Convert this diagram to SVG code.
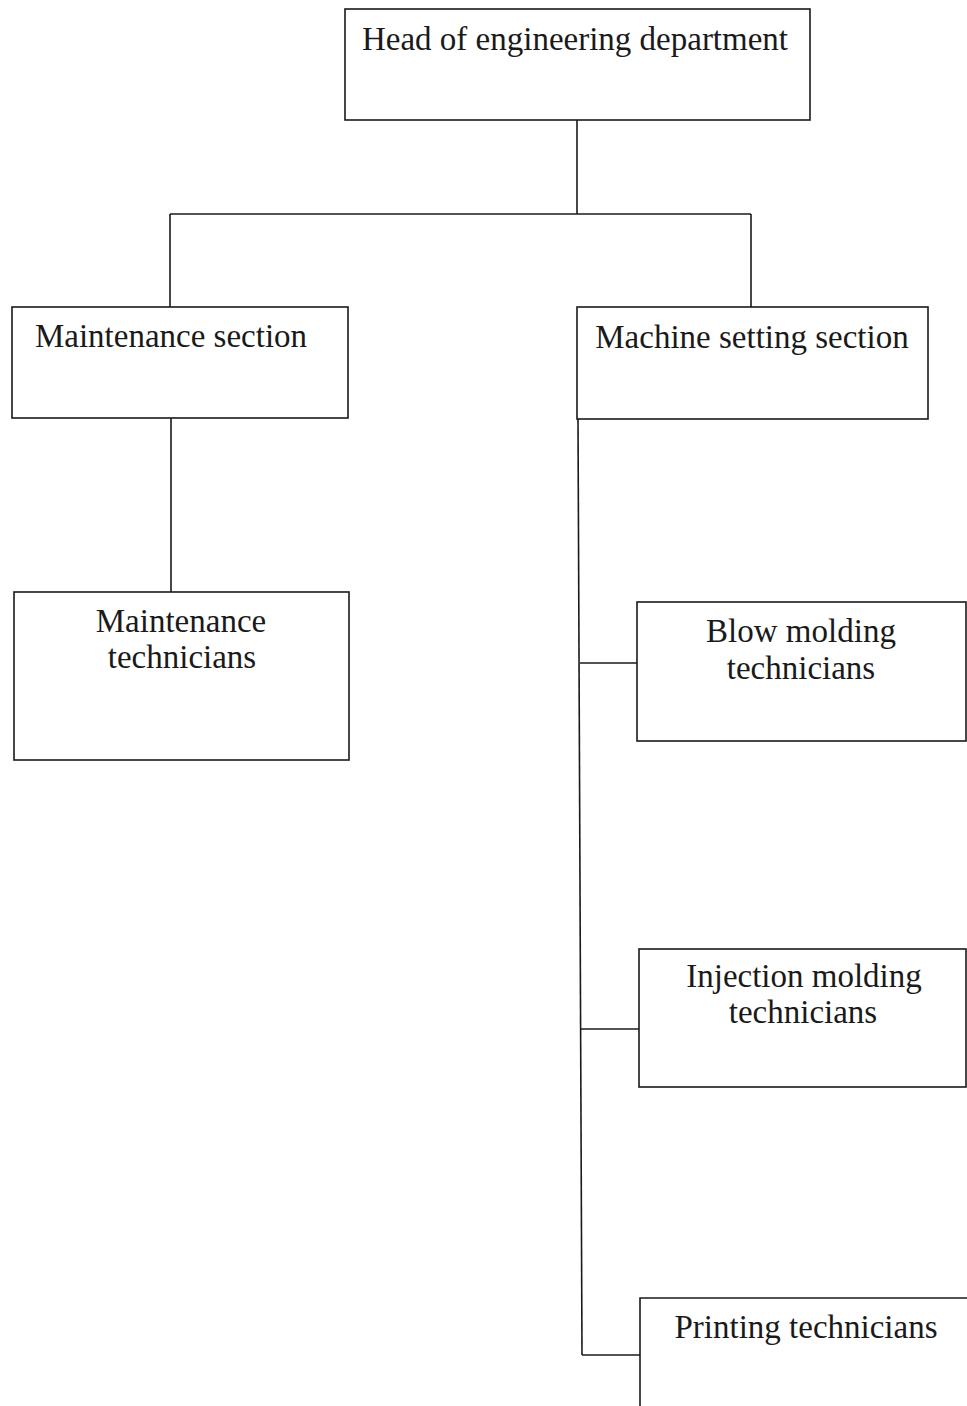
<svg xmlns="http://www.w3.org/2000/svg" width="967" height="1406" viewBox="0 0 967 1406">
<style>
.box{fill:#fff;stroke:#1a1a1a;stroke-width:1.6}
.ln{fill:none;stroke:#1a1a1a;stroke-width:1.6}
text{font-family:"Liberation Serif","Times New Roman",serif;font-size:33px;fill:#1a1a1a;text-anchor:middle}
</style>
<rect width="967" height="1406" fill="#fff"/>
<g id="connectors">
<path class="ln" d="M577 120 V214"/>
<path class="ln" d="M170 214 H751"/>
<path class="ln" d="M170 214 V307"/>
<path class="ln" d="M751 214 V307"/>
<path class="ln" d="M171 418 V592"/>
<path class="ln" d="M578 419 L582 1355"/>
<path class="ln" d="M580 663 H637"/>
<path class="ln" d="M581 1029 H639"/>
<path class="ln" d="M582 1355 H640"/>
</g>
<g id="head"><rect class="box" x="345" y="9" width="465" height="111"/><text x="575" y="50">Head of engineering department</text></g>
<g id="maint-section"><rect class="box" x="12" y="307" width="336" height="111"/><text x="171" y="347">Maintenance section</text></g>
<g id="machine-section"><rect class="box" x="577" y="307" width="351" height="112"/><text x="752" y="348">Machine setting section</text></g>
<g id="maint-tech"><rect class="box" x="14" y="592" width="335" height="168"/><text x="181" y="632">Maintenance</text><text x="182" y="668">technicians</text></g>
<g id="blow"><rect class="box" x="637" y="602" width="329" height="139"/><text x="801" y="642">Blow molding</text><text x="801" y="679">technicians</text></g>
<g id="injection"><rect class="box" x="639" y="949" width="327" height="138"/><text x="804" y="987">Injection molding</text><text x="803" y="1023">technicians</text></g>
<g id="printing"><path class="ln" d="M640 1420 V1298 H967"/><text x="806" y="1338">Printing technicians</text></g>
</svg>
